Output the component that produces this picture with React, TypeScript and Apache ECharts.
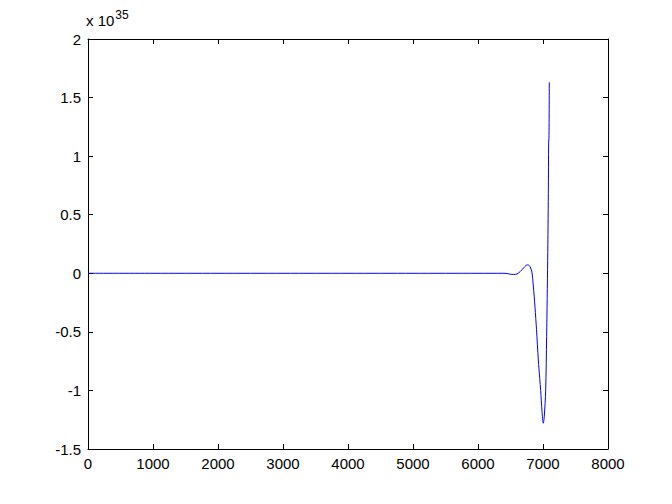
import React, { useEffect, useRef } from "react";
import * as echarts from "echarts";

// x positions (sample index) and values in units of 10^35
const xValues: number[] = [
  0, 1000, 2000, 3000, 4000, 5000, 6000, 6400, 6450, 6500, 6550, 6600, 6650,
  6700, 6740, 6765, 6790, 6810, 6830, 6850, 6877, 6900, 6928, 6950, 6964,
  6985, 7005, 7020, 7041, 7056, 7072, 7082, 7087, 7092, 7097,
];
const yValues: number[] = [
  0, 0, 0, 0, 0, 0, 0, 0, -0.002, -0.008, -0.01, -0.006, 0.015,
  0.045, 0.068, 0.072, 0.065, 0.045, 0.01, -0.1, -0.29, -0.48, -0.74, -0.9, -1.0,
  -1.18, -1.28, -1.22, -1.0, -0.54, 0.11, 0.68, 1.12, 1.15, 1.63,
];
const exponentLabel = "35";

const FONT = "'Liberation Sans', Arial, sans-serif";

export default function App() {
  const ref = useRef<HTMLDivElement>(null);
  useEffect(() => {
    document.body.style.margin = "0";
    const chart = echarts.init(ref.current!, undefined, { renderer: "svg" });
    const axisCommon = {
      type: "value" as const,
      axisLine: { show: true, onZero: false, lineStyle: { color: "#000", width: 1 } },
      axisTick: { show: true, inside: true, length: 5, lineStyle: { color: "#000" } },
      splitLine: { show: false },
    };
    const labelStyle = {
      color: "#000",
      fontSize: 15,
      fontFamily: FONT,
      formatter: (v: number) => String(v),
    };
    chart.setOption({
      animation: false,
      backgroundColor: "#fff",
      grid: { left: 88, top: 39, right: 64, bottom: 55, containLabel: false },
      xAxis: [
        {
          ...axisCommon,
          min: 0,
          max: 8000,
          interval: 1000,
          position: "bottom",
          axisLabel: { ...labelStyle, margin: 7 },
        },
        {
          ...axisCommon,
          min: 0,
          max: 8000,
          interval: 1000,
          position: "top",
          axisLabel: { show: false },
        },
      ],
      yAxis: [
        {
          ...axisCommon,
          min: -1.5,
          max: 2,
          interval: 0.5,
          position: "left",
          axisLabel: { ...labelStyle, margin: 7 },
        },
        {
          ...axisCommon,
          min: -1.5,
          max: 2,
          interval: 0.5,
          position: "right",
          axisLabel: { show: false },
        },
      ],
      graphic: [
        {
          type: "text",
          left: 86,
          top: 9,
          style: {
            text: "x 10{sup|" + exponentLabel + "}",
            rich: {
              sup: { fontSize: 12, fontFamily: FONT, fill: "#000", verticalAlign: "top", padding: [0, 0, 11, 1] },
            },
            fontSize: 15,
            fontFamily: FONT,
            fill: "#000",
          },
        },
      ],
      series: [
        {
          type: "line",
          xAxisIndex: 0,
          yAxisIndex: 0,
          data: xValues.map((x, i) => [x, yValues[i]]),
          showSymbol: false,
          smooth: 0.3,
          lineStyle: { color: "#0000ff", width: 1 },
        },
      ],
    });
    return () => chart.dispose();
  }, []);
  return <div ref={ref} style={{ width: 672, height: 504 }} />;
}
